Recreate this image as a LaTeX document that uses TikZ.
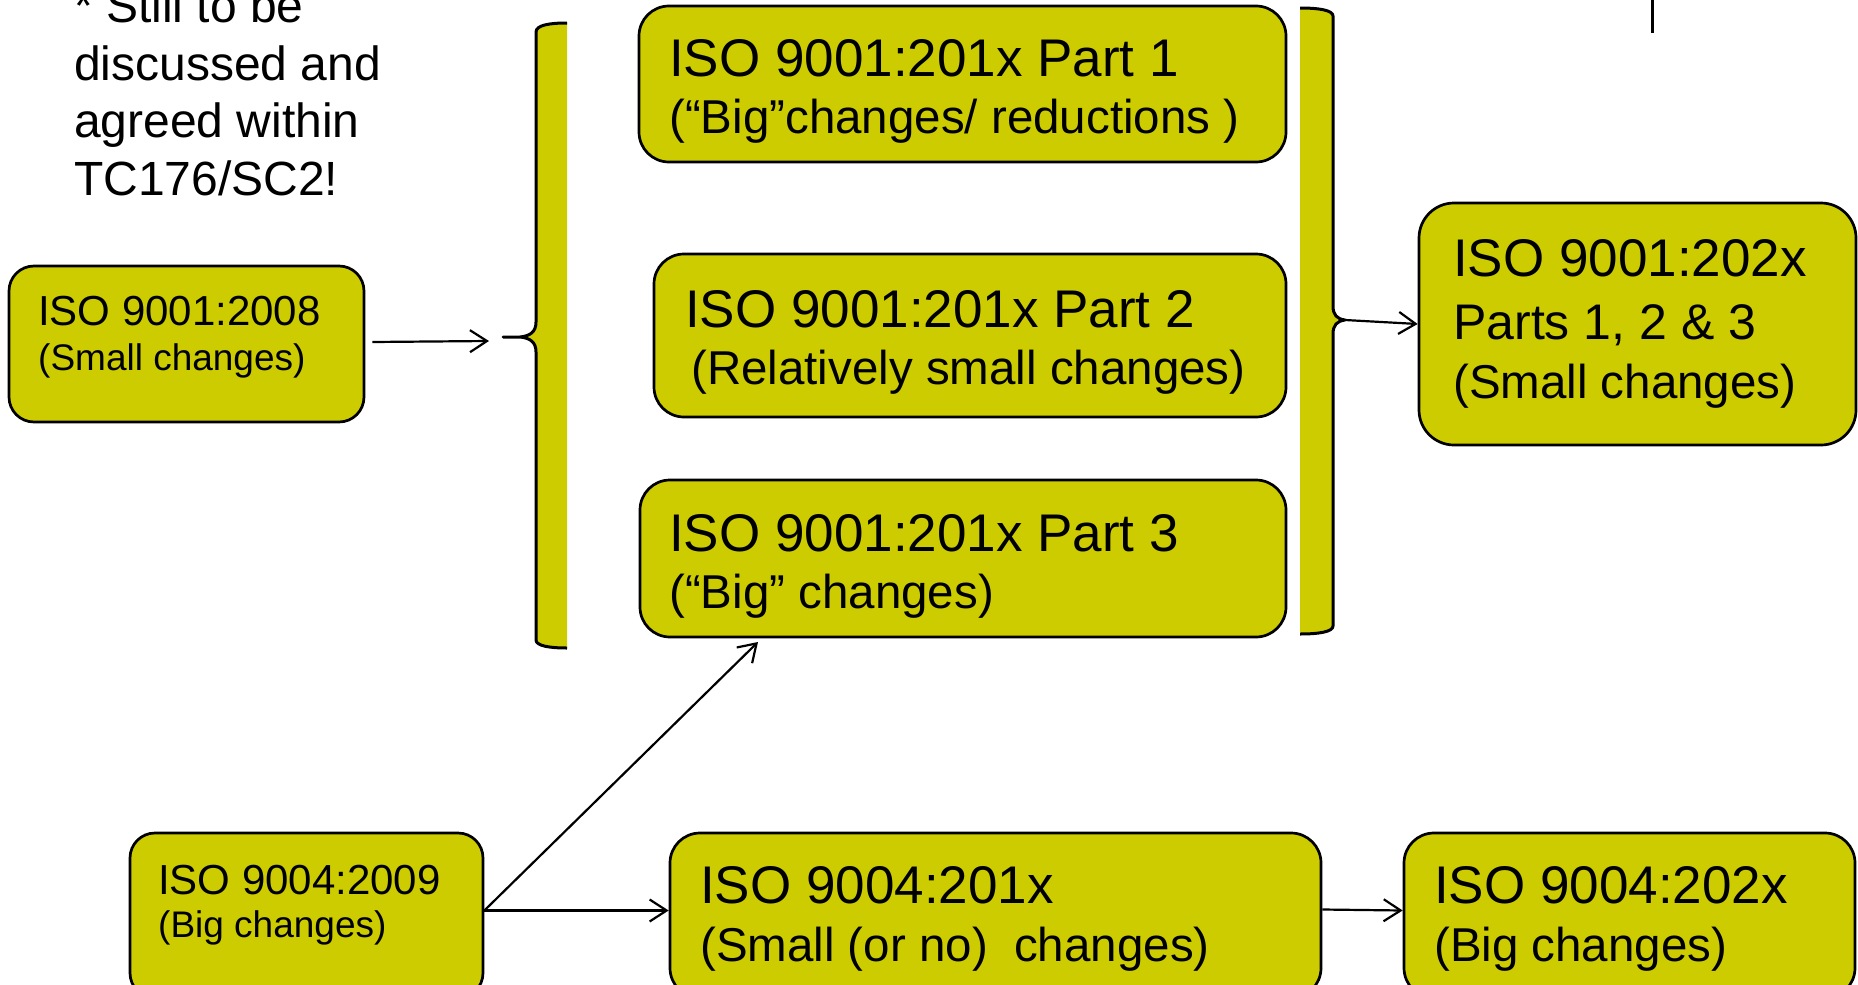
\documentclass[tikz,border=0pt]{standalone}
\usepackage{fontspec}
\setmainfont{Liberation Sans}
\usetikzlibrary{arrows.meta,calc}
\definecolor{boxfill}{RGB}{204,204,0}
\begin{document}
\begin{tikzpicture}[x=1pt,y=-1pt,
  box/.style={draw=black, line width=2.7pt, fill=boxfill, rounded corners=#1, inner sep=0pt},
  box/.default=30pt,
  big/.style={font=\fontsize{53}{60}\selectfont, anchor=base west, inner sep=0pt},
  bigb/.style={font=\fontsize{50}{58}\selectfont, anchor=base west, inner sep=0pt},
  mid/.style={font=\fontsize{47.5}{56}\selectfont, anchor=base west, inner sep=0pt},
  note/.style={font=\fontsize{48}{56}\selectfont, anchor=base west, inner sep=0pt},
  sml/.style={font=\fontsize{42}{48}\selectfont, anchor=base west, inner sep=0pt},
  smlb/.style={font=\fontsize{37}{44}\selectfont, anchor=base west, inner sep=0pt},
  arr/.style={draw=black, line width=2.2pt, -{Straight Barb[length=17pt,width=22pt]}},
  bracestroke/.style={draw=black, line width=3pt, line join=round}]
\useasboundingbox (0,0) rectangle (1858,985);
\begin{scope}
\clip (0,0) rectangle (1858,985);

% note text
\node[note] (n1) at (74,22) {* Still to be};
\node[note] (n2) at (74,80) {discussed and};
\node[note] (n3) at (74,137) {agreed within};
\node[note] (n4) at (74,195) {TC176/SC2!};

% boxes
\node[box=25pt, minimum width=355pt, minimum height=156pt] (a) at (186.5,344) {};
\node[box, minimum width=647pt, minimum height=156pt] (p1) at (962.5,84) {};
\node[box, minimum width=632pt, minimum height=163pt] (p2) at (970,335.5) {};
\node[box, minimum width=646pt, minimum height=157pt] (p3) at (963,558.5) {};
\node[box=35pt, minimum width=437pt, minimum height=242pt] (r) at (1637.5,324) {};
\node[box=25pt, minimum width=353pt, minimum height=165pt] (b) at (306.5,915.5) {};
\node[box, minimum width=651pt, minimum height=165pt] (c) at (995.5,915.5) {};
\node[box, minimum width=451pt, minimum height=165pt] (d) at (1629.5,915.5) {};

% box texts
\node[sml] (ta1) at (38,325) {ISO 9001:2008};
\node[smlb] (ta2) at (38,370) {(Small changes)};
\node[big] (tp11) at (669,76) {ISO 9001:201x Part 1};
\node[mid] (tp12) at (669,133) {(“Big”changes/ reductions )};
\node[big] (tp21) at (685,327) {ISO 9001:201x Part 2};
\node[mid] (tp22) at (691,384) {(Relatively small changes)};
\node[big] (tp31) at (669,551) {ISO 9001:201x Part 3};
\node[mid] (tp32) at (669,608) {(“Big” changes)};
\node[big] (tr1) at (1453,276) {ISO 9001:202x};
\node[bigb] (tr2) at (1453,339) {Parts 1, 2 \& 3};
\node[mid] (tr3) at (1453,398) {(Small changes)};
\node[sml] (tb1) at (158,894) {ISO 9004:2009};
\node[smlb] (tb2) at (158,937) {(Big changes)};
\node[big] (tc1) at (700,903) {ISO 9004:201x};
\node[mid] (tc2) at (700,961) {(Small (or no)\ \ changes)};
\node[big] (td1) at (1434,903) {ISO 9004:202x};
\node[mid] (td2) at (1434,961) {(Big changes)};

% left brace
\fill[boxfill] (567,23) .. controls (550,23) and (536,25) .. (536,32) -- (536,322)
  .. controls (536,332) and (530,336) .. (520,337) -- (503,337) -- (520,337)
  .. controls (530,338) and (536,342) .. (536,352) -- (536,640)
  .. controls (536,646) and (550,648) .. (567,648) -- cycle;
\draw[bracestroke] (567,23) .. controls (550,23) and (536,25) .. (536,32) -- (536,322)
  .. controls (536,332) and (530,336) .. (520,337) -- (503,337) -- (520,337)
  .. controls (530,338) and (536,342) .. (536,352) -- (536,640)
  .. controls (536,646) and (550,648) .. (567,648);
\coordinate (lbtip) at (503,337);
\coordinate (lbin) at (489,341);

% right brace
\fill[boxfill] (1300,8) .. controls (1318,8) and (1333,10) .. (1333,16) -- (1333,306)
  .. controls (1333,315) and (1337,319) .. (1345,320)
  .. controls (1337,321) and (1333,325) .. (1333,334) -- (1333,626)
  .. controls (1333,632) and (1318,634) .. (1300,634) -- cycle;
\draw[bracestroke] (1300,8) .. controls (1318,8) and (1333,10) .. (1333,16) -- (1333,306)
  .. controls (1333,315) and (1337,319) .. (1345,320)
  .. controls (1337,321) and (1333,325) .. (1333,334) -- (1333,626)
  .. controls (1333,632) and (1318,634) .. (1300,634);
\coordinate (rbtip) at (1345,320);
\coordinate (p3in) at (758,642);

% connectors
\draw[arr] ([xshift=7pt,yshift=2pt]a.east) -- (lbin);
\draw[arr] (rbtip) -- (r.west);
\draw[arr] ([yshift=5pt]b.east) -- (p3in);
\draw[arr] ([yshift=5pt]b.east) -- ([yshift=5pt]c.west);
\draw[arr] ([yshift=6pt]c.east) -- ([yshift=5pt]d.west);

% top-right mark
\draw[line width=3pt] (1652,0) -- (1652,33);
\end{scope}
\end{tikzpicture}
\end{document}
